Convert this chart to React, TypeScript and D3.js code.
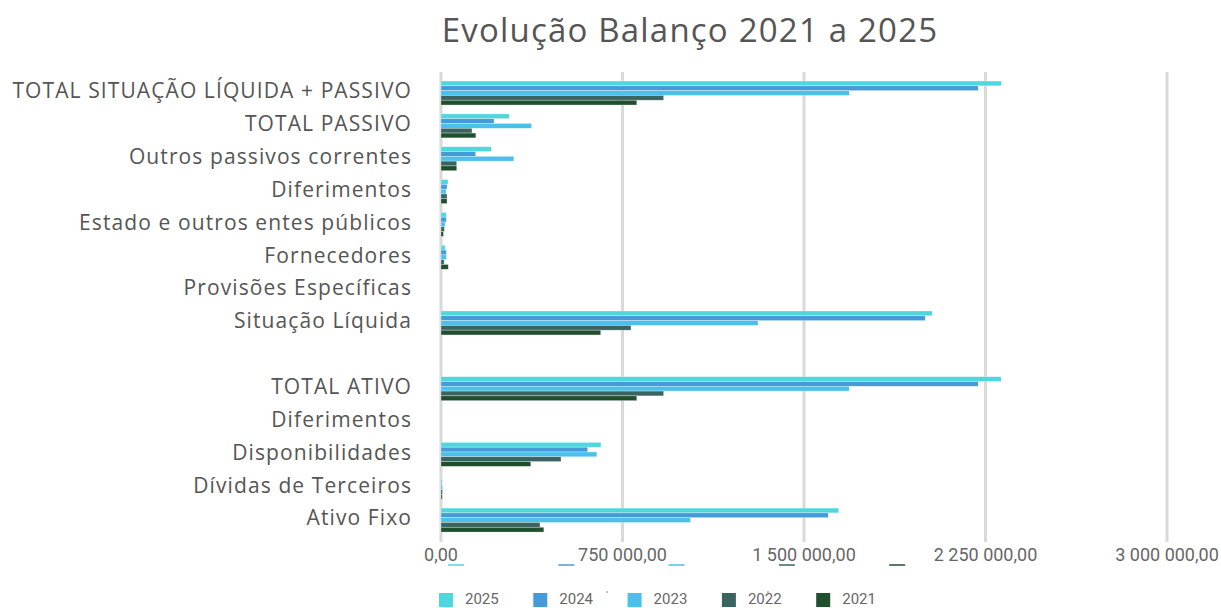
import React from "react";
import * as d3 from "d3";

const title = "Evolução Balanço 2021 a 2025";

const categories = [
  "TOTAL SITUAÇÃO LÍQUIDA + PASSIVO",
  "TOTAL PASSIVO",
  "Outros passivos correntes",
  "Diferimentos",
  "Estado e outros entes públicos",
  "Fornecedores",
  "Provisões Específicas",
  "Situação Líquida",
  "",
  "TOTAL ATIVO",
  "Diferimentos",
  "Disponibilidades",
  "Dívidas de Terceiros",
  "Ativo Fixo",
];

const years = ["2025", "2024", "2023", "2022", "2021"];

const values2025 = [2315000, 282000, 208000, 29000, 22000, 17000, 0, 2030000, 0, 2315000, 0, 661000, 2000, 1643000];
const values2024 = [2220000, 219000, 143000, 25000, 22000, 22000, 0, 2001000, 0, 2220000, 0, 606000, 3000, 1600000];
const values2023 = [1687000, 374000, 301000, 21000, 17000, 22000, 0, 1310000, 0, 1687000, 0, 644000, 6000, 1031000];
const values2022 = [920000, 128000, 65000, 25000, 14000, 13000, 0, 785000, 0, 920000, 0, 496000, 6000, 409000];
const values2021 = [809000, 144000, 65000, 25000, 10000, 30000, 0, 660000, 0, 809000, 0, 371000, 5000, 425000];

const seriesValues = [values2025, values2024, values2023, values2022, values2021];
const colors = ["#4fd7de", "#459bda", "#4cbfea", "#3b6461", "#214e2d"];

const xTicks = [0, 750000, 1500000, 2250000, 3000000];
const tickLabels = ["0,00", "750 000,00", "1 500 000,00", "2 250 000,00", "3 000 000,00"];

export default function App() {
  const x = d3.scaleLinear().domain([0, 3000000]).range([441, 1167]);
  const y = d3
    .scaleBand<number>()
    .domain(categories.map((_, i) => i))
    .range([76.6, 536.5])
    .paddingInner(0.27)
    .paddingOuter(0.135);
  const inner = d3.scaleBand<string>().domain(years).range([0, y.bandwidth()]).padding(0);

  const labelColor = "#555555";
  const font = "'Open Sans', sans-serif";

  return (
    <svg
      width={1221}
      height={608}
      style={{ position: "absolute", left: 0, top: 0, background: "#fff" }}
    >
      <text
        x={690}
        y={42}
        textAnchor="middle"
        fontFamily={font}
        fontSize={33}
        letterSpacing={1.2}
        fill={labelColor}
      >
        {title}
      </text>

      {xTicks.map((t, i) => (
        <line key={"g" + i} x1={x(t)} x2={x(t)} y1={72} y2={542} stroke="#d9d9d9" strokeWidth={3} />
      ))}

      {seriesValues.map((vals, si) =>
        vals.map((v, ci) =>
          v > 0 ? (
            <rect
              key={si + "-" + ci}
              x={x(0)}
              y={(y(ci) as number) + (inner(years[si]) as number)}
              width={x(v) - x(0)}
              height={inner.bandwidth()}
              fill={colors[si]}
              stroke="#ffffff"
              strokeOpacity={0.5}
              strokeWidth={0.6}
            />
          ) : null
        )
      )}

      {categories.map((c, i) => (
        <text
          key={"c" + i}
          x={412}
          y={(y(i) as number) + y.bandwidth() / 2 - 2}
          dy="0.35em"
          textAnchor="end"
          fontFamily={font}
          fontSize={21}
          letterSpacing={1.1}
          fill={labelColor}
        >
          {c}
        </text>
      ))}

      {xTicks.map((t, i) => (
        <text
          key={"t" + i}
          x={x(t)}
          y={561}
          textAnchor="middle"
          fontFamily="Roboto, sans-serif"
          fontSize={18}
          fill="#666666"
        >
          {tickLabels[i]}
        </text>
      ))}

      {years.map((yr, i) => (
        <line
          key={"u" + i}
          x1={448 + i * 110.3}
          x2={464 + i * 110.3}
          y1={565}
          y2={565}
          stroke={colors[i]}
          strokeWidth={1.5}
        />
      ))}
      <circle cx={607} cy={592} r={0.8} fill="#777" />
      <circle cx={768} cy={592} r={0.8} fill="#777" />

      {years.map((yr, i) => (
        <g key={"l" + i} transform={`translate(${439 + i * 94.3},593)`}>
          <rect x={0} y={0} width={14} height={14} fill={colors[i]} />
          <text x={26} y={11} fontFamily="Roboto, sans-serif" fontSize={15} fill="#666666">
            {yr}
          </text>
        </g>
      ))}
    </svg>
  );
}
